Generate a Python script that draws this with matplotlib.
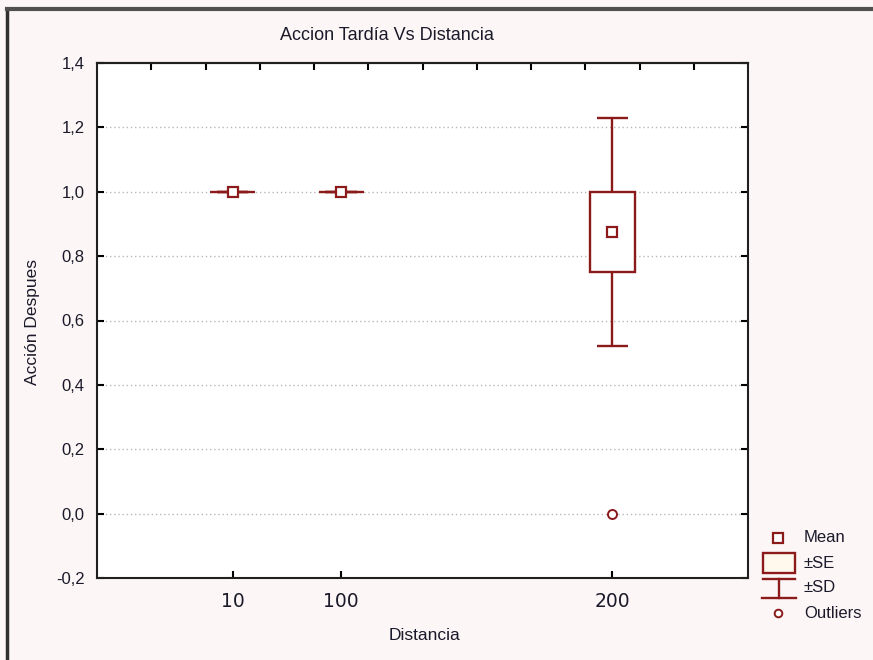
import numpy as np
import matplotlib
matplotlib.use("Agg")
import matplotlib.pyplot as plt
from matplotlib.ticker import FuncFormatter
from matplotlib.patches import Rectangle
from matplotlib.lines import Line2D

# group summaries (mean, standard error, standard deviation)
distancias = ["10", "100", "200"]
posiciones = [1.0, 2.0, 4.5]
medias = [1.0, 1.0, 0.875]
errores_std = [0.0, 0.0, 0.125]
desv_std = [0.0, 0.0, 0.3536]
outlier_pos = [4.5]
outlier_val = [0.0]

rojo = "#8b1a1a"
fondo = "#fdf6f6"
texto = "#1a1a2a"
fuente = ["Liberation Sans", "DejaVu Sans"]

plt.rcParams["font.family"] = fuente

fig = plt.figure(figsize=(8.73, 6.6), dpi=100, facecolor=fondo)
ax = fig.add_axes([97 / 873, 1 - 578 / 660, 651 / 873, 515 / 660])
ax.set_facecolor("white")

xlo, xhi = -0.25, 5.75
ax.set_xlim(xlo, xhi)
ax.set_ylim(-0.2, 1.4)

ancho_caja = 0.415
ancho_tope = 0.29

m = np.array(medias)
se = np.array(errores_std)
sd = np.array(desv_std)
x = np.array(posiciones)

# whiskers (±SD)
ax.vlines(x, m + se, m + sd, color=rojo, lw=1.7, zorder=3)
ax.vlines(x, m - sd, m - se, color=rojo, lw=1.7, zorder=3)
ax.hlines(m + sd, x - ancho_tope / 2, x + ancho_tope / 2, color=rojo, lw=1.7, zorder=3)
ax.hlines(m - sd, x - ancho_tope / 2, x + ancho_tope / 2, color=rojo, lw=1.7, zorder=3)
# boxes (±SE)
ax.bar(x, 2 * se, bottom=m - se, width=ancho_caja, color="white",
       edgecolor=rojo, linewidth=1.7, zorder=4)
# means
ax.plot(x, m, "s", ms=6.5, mfc="white", mec=rojo, mew=1.6, zorder=5)
# outliers
ax.plot(outlier_pos, outlier_val, "o", ms=6.5, mfc="white", mec=rojo, mew=1.4, zorder=5)

yt = np.arange(-0.2, 1.41, 0.2)
ax.set_yticks(yt)
ax.yaxis.set_major_formatter(FuncFormatter(lambda v, p: f"{v:.1f}".replace(".", ",").replace("-0,0", "0,0")))
for v in yt[1:-1]:
    ax.axhline(v, color="#b8b8b8", lw=1, ls=(0, (1, 2)), zorder=1)

ax.set_xticks(posiciones)
ax.set_xticklabels(distancias, fontsize=13.5, family="DejaVu Sans", color=texto)
ax.tick_params(axis="x", direction="in", length=5, width=1.5, pad=10)
ax.tick_params(axis="y", direction="in", length=5, width=1.5, right=True,
               labelsize=12, labelcolor=texto, pad=9)

top = ax.secondary_xaxis("top")
top.set_xticks(np.linspace(xlo, xhi, 13)[1:-1])
top.set_xticklabels([])
top.tick_params(direction="in", length=5, width=1.5)
top.spines["top"].set_linewidth(1.5)

for s in ax.spines.values():
    s.set_linewidth(1.5)
    s.set_color("#202020")

fig.text(387 / 873, 1 - 36 / 660, "Accion Tardía Vs Distancia", fontsize=13,
         color=texto, ha="center", va="center")
fig.text(424 / 873, 1 - 635 / 660, "Distancia", fontsize=12.5,
         color=texto, ha="center", va="center")
fig.text(33 / 873, 1 - 322 / 660, "Acción Despues", fontsize=12.5,
         color=texto, ha="center", va="center", rotation=90)

# legend keys drawn in pixel space to the right of the plot
leg = fig.add_axes([0, 0, 1, 1], facecolor="none")
leg.set_xlim(0, 873)
leg.set_ylim(660, 0)
leg.axis("off")
leg.plot([778], [538], "s", ms=6.5, mfc="white", mec=rojo, mew=1.6)
leg.add_patch(Rectangle((763, 553), 32, 20, facecolor="#fff8ec", edgecolor=rojo, lw=1.7))
leg.plot([763, 795], [579, 579], color=rojo, lw=1.7)
leg.plot([779, 779], [579, 598], color=rojo, lw=1.7)
leg.plot([762, 796], [598, 598], color=rojo, lw=1.7)
leg.plot([778], [613], "o", ms=5.5, mfc="white", mec=rojo, mew=1.4)
for yy, t in zip([538, 563, 588, 613], ["Mean", "±SE", "±SD", "Outliers"]):
    leg.text(804, yy, t, fontsize=12, va="center", ha="left", color=texto)

# outer frame lines
leg.add_line(Line2D([7, 7], [9, 660], color="#303030", lw=2.5))
leg.add_line(Line2D([7, 873], [9, 9], color="#505050", lw=3))

fig.savefig("out.png", dpi=100, facecolor=fondo)
